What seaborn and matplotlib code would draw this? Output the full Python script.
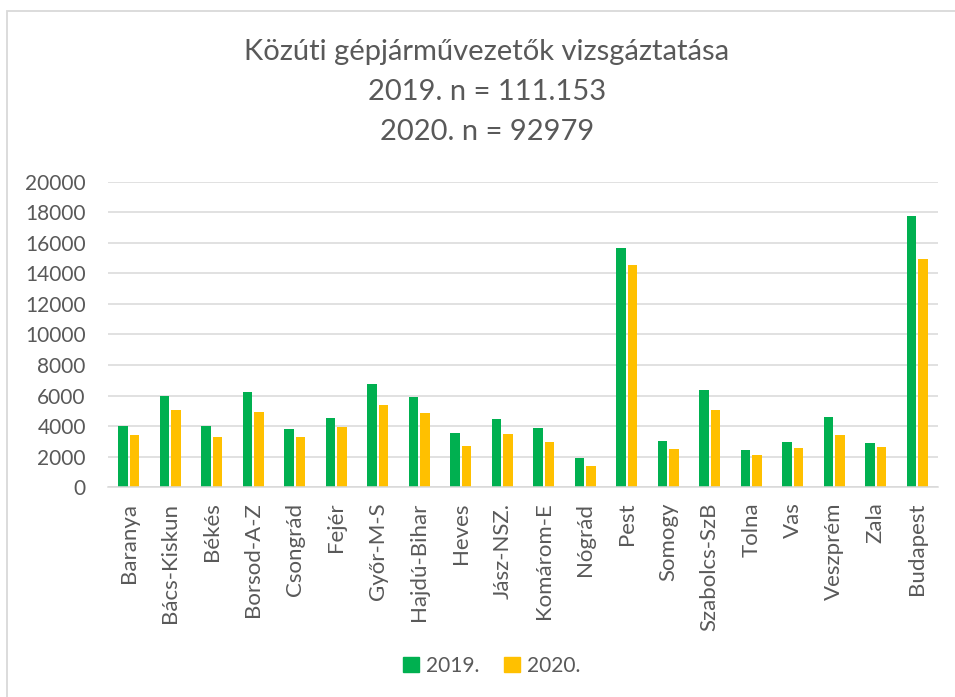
import pandas as pd
import matplotlib.pyplot as plt
import seaborn as sns
from matplotlib.patches import Rectangle

# megyék és vizsgaszámok (leolvasva az ábráról)
megyek = ["Baranya", "Bács-Kiskun", "Békés", "Borsod-A-Z", "Csongrád", "Fejér",
          "Győr-M-S", "Hajdú-Bihar", "Heves", "Jász-NSZ.", "Komárom-E", "Nógrád",
          "Pest", "Somogy", "Szabolcs-SzB", "Tolna", "Vas", "Veszprém", "Zala",
          "Budapest"]
ev_2019 = [4035, 5976, 4013, 6238, 3817, 4558, 6740, 5932, 3555, 4449,
           3904, 1919, 15682, 3010, 6347, 2421, 2988, 4580, 2879, 17775]
ev_2020 = [3400, 5060, 3293, 4907, 3315, 3948, 5387, 4885, 2726, 3490,
           2966, 1396, 14547, 2486, 5060, 2116, 2574, 3402, 2639, 14918]
evek = ["2019.", "2020."]
szinek = {"2019.": "#00B050", "2020.": "#FFC000"}
yticks = list(range(0, 20001, 2000))

TEXT = "#595959"
GRID = "#D9D9D9"

df = pd.DataFrame({
    "megye": megyek * 2,
    "db": ev_2019 + ev_2020,
    "ev": [evek[0]] * len(megyek) + [evek[1]] * len(megyek),
})

sns.set_theme(style="white")
plt.rcParams["font.family"] = ["Lato", "DejaVu Sans"]

fig = plt.figure(figsize=(9.55, 6.97), dpi=100)
ax = fig.add_axes([0.1131, 0.3009, 0.8691, 0.4384])

sns.barplot(data=df, x="megye", y="db", hue="ev", palette=szinek,
            saturation=1, width=0.57, gap=0.2, linewidth=0, ax=ax,
            legend=False)

ax.set_ylim(0, 20000)
ax.set_xlim(-0.5, len(megyek) - 0.5)
ax.set_yticks(yticks)
ax.set_yticklabels([str(v) for v in yticks])
ax.yaxis.grid(True, color=GRID, linewidth=1.1)
ax.set_axisbelow(True)
for s in ["top", "right", "left"]:
    ax.spines[s].set_visible(False)
ax.spines["bottom"].set_color(GRID)
ax.spines["bottom"].set_linewidth(1.1)
ax.set_xlabel("")
ax.set_ylabel("")
ax.tick_params(axis="both", length=0, labelcolor=TEXT)
ax.tick_params(axis="y", pad=16, labelsize=15)
ax.tick_params(axis="x", pad=11, labelsize=16)
plt.setp(ax.get_xticklabels(), rotation=90)

# cím (három sor)
tx = 487 / 955
fig.text(tx, 1 - 52 / 697, "Közúti gépjárművezetők vizsgáztatása",
         ha="center", va="center", fontsize=21, color=TEXT)
fig.text(tx, 1 - 92 / 697, "2019. n = 111.153",
         ha="center", va="center", fontsize=21, color=TEXT)
fig.text(tx, 1 - 132 / 697, "2020. n = 92979",
         ha="center", va="center", fontsize=21, color=TEXT)

handles = [Rectangle((0, 0), 1, 1, color=szinek[e]) for e in evek]
fig.legend(handles, evek, loc="center", bbox_to_anchor=(0.515, 1 - 666 / 697),
           ncol=2, frameon=False, fontsize=15, labelcolor=TEXT,
           handlelength=0.75, handleheight=0.75, handletextpad=0.35,
           columnspacing=1.2)

# keret (csak bal és felső él látszik)
fig.patches.append(Rectangle((7 / 955, -0.1), 1.2, 1 - 11 / 697 + 0.1,
                             transform=fig.transFigure, fill=False,
                             edgecolor=GRID, linewidth=1.3))

fig.savefig("out.png", dpi=100)
